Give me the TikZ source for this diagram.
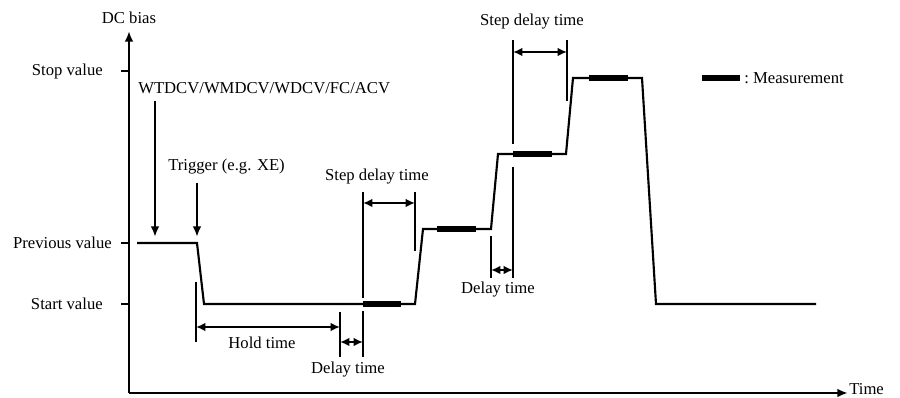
\documentclass[tikz,border=0pt]{standalone}
\usepackage{fontspec}
\setmainfont{Liberation Serif}
\usetikzlibrary{arrows.meta}
\tikzset{
  line/.style={line width=1.6pt},
  meas/.style={line width=5.2pt},
  axis/.style={line width=1.6pt,-{Latex[length=8pt,width=6.5pt]}},
  pointer/.style={line width=1.6pt,-{Latex[length=8pt,width=6.5pt]}},
  span/.style={line width=1.6pt,{Latex[length=7pt,width=6.5pt]}-{Latex[length=7pt,width=6.5pt]}},
  lbl/.style={font=\fontsize{12.5}{14}\selectfont,inner sep=0pt},
}
\begin{document}
\begin{tikzpicture}[x=0.75pt,y=-0.75pt]
  \useasboundingbox (0,0) rectangle (900,398);

  % axes
  \coordinate (origin) at (129,393);
  \draw [axis] (origin) -- (129,31);
  \draw [axis] (origin) -- (848,393);
  \node [lbl] (ylabel) at (129,18) {DC bias};
  \node [lbl,anchor=west] (xlabel) at (849,389) {Time};

  % levels
  \draw [line] (121,71) -- (129,71);
  \draw [line] (121,243) -- (129,243);
  \draw [line] (121,304) -- (129,304);
  \node [lbl,anchor=east] (stop) at (103,71) {Stop value};
  \node [lbl,anchor=east] (prev) at (112,243) {Previous value};
  \node [lbl,anchor=east] (start) at (103,304) {Start value};

  % bias waveform
  \draw [line] (137,243) -- (197,243) -- (204,304) -- (415,304) -- (423,229)
    -- (491,229) -- (498,154) -- (566,154) -- (573,78) -- (642,78)
    -- (656,304) -- (816,304);

  % measurements
  \draw [meas] (363,304) -- (401,304);
  \draw [meas] (437,229) -- (476,229);
  \draw [meas] (513,154) -- (552,154);
  \draw [meas] (589,78) -- (628,78);
  \draw [meas] (702,78) -- (740,78);
  \node [lbl,anchor=west] (legend) at (744,78) {:\ Measurement};

  % commands
  \node [lbl,anchor=west] (cmd) at (138,88) {WTDCV/WMDCV/WDCV/FC/ACV};
  \draw [pointer] (155,101) -- (155,237);
  \node [lbl,anchor=west] (trig) at (168,167) {Trigger (e.g. XE)};
  \draw [pointer] (197,183) -- (197,237);

  % hold and delay time
  \draw [line] (196,282) -- (196,342);
  \draw [line] (340,312) -- (340,357);
  \draw [line] (363,192) -- (363,298);
  \draw [line] (363,311) -- (363,357);
  \draw [span] (196,327) -- (340,327);
  \draw [span] (340,342) -- (363,342);
  \node [lbl] (hold) at (262,343) {Hold time};
  \node [lbl] (delay1) at (348,370) {Delay time};

  % first step delay
  \draw [line] (415,192) -- (415,251);
  \draw [span] (363,203) -- (415,203);
  \node [lbl] (sdt1) at (377,177) {Step delay time};

  % second step delay
  \draw [line] (491,236) -- (491,278);
  \draw [line] (513,40) -- (513,144);
  \draw [line] (513,167) -- (513,278);
  \draw [line] (567,40) -- (567,101);
  \draw [span] (491,270) -- (513,270);
  \draw [span] (513,52) -- (567,52);
  \node [lbl] (delay2) at (498,290) {Delay time};
  \node [lbl] (sdt2) at (532,22) {Step delay time};
\end{tikzpicture}
\end{document}
